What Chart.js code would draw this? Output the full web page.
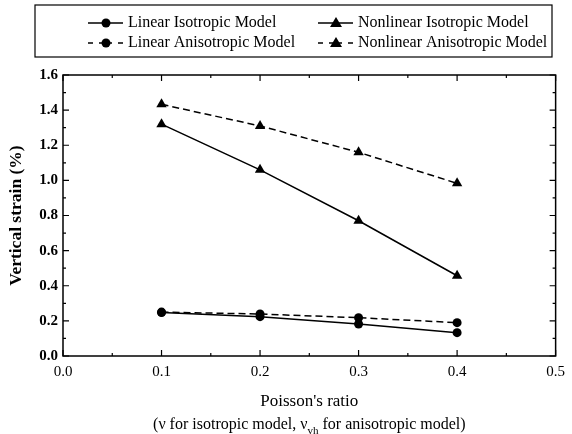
<!DOCTYPE html>
<html>
<head>
<meta charset="utf-8">
<script src="https://cdn.jsdelivr.net/npm/chart.js@4.4.1/dist/chart.umd.min.js"></script>
<style>
  html, body { margin: 0; padding: 0; background: #fff; }
  #wrap { width: 572px; height: 434px; }
</style>
</head>
<body>
<div id="wrap"><canvas id="strainChart" width="572" height="434"></canvas></div>
<script>
// --- Data --- //
const poissonRatios = [0.1, 0.2, 0.3, 0.4];
const linearIsotropic = [0.247, 0.224, 0.182, 0.133];
const nonlinearIsotropic = [1.32, 1.06, 0.77, 0.457];
const linearAnisotropic = [0.25, 0.239, 0.218, 0.19];
const nonlinearAnisotropic = [1.433, 1.31, 1.16, 0.983];
const xTicks = [0.0, 0.1, 0.2, 0.3, 0.4, 0.5];
const yTicks = [0.0, 0.2, 0.4, 0.6, 0.8, 1.0, 1.2, 1.4, 1.6];

const SERIF = '"Liberation Serif", "DejaVu Serif", serif';
const toPoints = vals => vals.map((v, i) => ({ x: poissonRatios[i], y: v }));

const series = [
    { label: 'Linear Isotropic Model', data: linearIsotropic, marker: 'circle', dash: [] },
    { label: 'Nonlinear Isotropic Model', data: nonlinearIsotropic, marker: 'triangle', dash: [] },
    { label: 'Linear Anisotropic Model', data: linearAnisotropic, marker: 'circle', dash: [7, 4] },
    { label: 'Nonlinear Anisotropic Model', data: nonlinearAnisotropic, marker: 'triangle', dash: [7, 4] }
];

// Frame, inward ticks on all four sides, legend box and x title with subscript
const decorations = {
    id: 'decorations',
    afterDraw(chart) {
        const { ctx, chartArea: a, scales: { x, y } } = chart;
        ctx.save();
        ctx.strokeStyle = '#000';
        ctx.lineWidth = 1.5;
        ctx.strokeRect(a.left, a.top, a.right - a.left, a.bottom - a.top);

        ctx.lineWidth = 1.2;
        ctx.beginPath();
        for (let v = 0; v <= 0.5001; v += 0.05) {
            const px = x.getPixelForValue(v);
            const len = Math.round(v * 100) % 10 === 0 ? 6 : 3;
            ctx.moveTo(px, a.bottom); ctx.lineTo(px, a.bottom - len);
            ctx.moveTo(px, a.top); ctx.lineTo(px, a.top + len);
        }
        for (let v = 0; v <= 1.6001; v += 0.1) {
            const py = y.getPixelForValue(v);
            const len = Math.round(v * 10) % 2 === 0 ? 6 : 3;
            ctx.moveTo(a.left, py); ctx.lineTo(a.left + len, py);
            ctx.moveTo(a.right, py); ctx.lineTo(a.right - len, py);
        }
        ctx.stroke();

        // Legend
        ctx.lineWidth = 1.2;
        ctx.strokeRect(35, 5, 517, 52);
        const cols = [88, 318];
        const rows = [23, 43];
        series.forEach((s, i) => {
            const lx = cols[i % 2];
            const ly = rows[Math.floor(i / 2)];
            ctx.lineWidth = 1.5;
            ctx.beginPath();
            if (s.dash.length) {
                [[0, 5], [11, 24], [30, 35]].forEach(([p, q]) => {
                    ctx.moveTo(lx + p, ly); ctx.lineTo(lx + q, ly);
                });
            } else {
                ctx.moveTo(lx, ly); ctx.lineTo(lx + 35, ly);
            }
            ctx.stroke();
            ctx.fillStyle = '#000';
            ctx.beginPath();
            if (s.marker === 'circle') {
                ctx.arc(lx + 18, ly, 4.5, 0, Math.PI * 2);
            } else {
                ctx.moveTo(lx + 18, ly - 6); ctx.lineTo(lx + 24, ly + 4); ctx.lineTo(lx + 12, ly + 4);
                ctx.closePath();
            }
            ctx.fill();
            ctx.font = '16px ' + SERIF;
            ctx.textBaseline = 'middle';
            ctx.textAlign = 'left';
            ctx.fillText(s.label, lx + 40, ly);
        });

        // X axis title, two lines
        const cx = (a.left + a.right) / 2;
        ctx.font = '17px ' + SERIF;
        ctx.textAlign = 'center';
        ctx.textBaseline = 'middle';
        ctx.fillText("Poisson's ratio", cx, 402);
        const pre = '(\u03bd for isotropic model, \u03bd';
        const post = ' for anisotropic model)';
        ctx.font = '11px ' + SERIF;
        const subW = ctx.measureText('vh').width;
        ctx.font = '16px ' + SERIF;
        const w1 = ctx.measureText(pre).width;
        const w2 = ctx.measureText(post).width;
        let sx = cx - (w1 + subW + w2) / 2;
        ctx.textAlign = 'left';
        ctx.fillText(pre, sx, 425);
        sx += w1;
        ctx.font = '11px ' + SERIF;
        ctx.fillText('vh', sx, 431);
        sx += subW;
        ctx.font = '16px ' + SERIF;
        ctx.fillText(post, sx, 425);
        ctx.restore();
    }
};

const chart = new Chart(document.getElementById('strainChart'), {
    type: 'line',
    data: {
        datasets: series.map(s => ({
            label: s.label,
            data: toPoints(s.data),
            borderColor: '#000',
            backgroundColor: '#000',
            borderWidth: 1.5,
            borderDash: s.dash,
            pointStyle: s.marker,
            pointRadius: s.marker === 'circle' ? 4.5 : 6,
            pointBorderWidth: 0,
            fill: false,
            tension: 0
        }))
    },
    options: {
        responsive: false,
        animation: false,
        layout: { padding: { top: 75, right: 11, left: 0, bottom: 0 } },
        plugins: { legend: { display: false }, tooltip: { enabled: false } },
        scales: {
            x: {
                type: 'linear',
                min: 0, max: 0.5,
                afterFit: s => { s.height = 78; },
                afterBuildTicks: s => { s.ticks = xTicks.map(v => ({ value: v })); },
                grid: { display: false, drawTicks: false },
                border: { display: false },
                ticks: {
                    padding: 7,
                    color: '#000',
                    font: { family: SERIF, size: 15 },
                    callback: v => v.toFixed(1)
                }
            },
            y: {
                min: 0, max: 1.6,
                afterFit: s => { s.width = 63; },
                afterBuildTicks: s => { s.ticks = yTicks.map(v => ({ value: v })); },
                grid: { display: false, drawTicks: false },
                border: { display: false },
                title: {
                    display: true,
                    text: 'Vertical strain (%)',
                    color: '#000',
                    font: { family: SERIF, size: 17.5, weight: 'bold' },
                    padding: { top: 6, bottom: 0 }
                },
                ticks: {
                    padding: 5,
                    color: '#000',
                    font: { family: SERIF, size: 15, weight: 'bold' },
                    callback: v => v.toFixed(1)
                }
            }
        }
    },
    plugins: [decorations]
});
</script>
</body>
</html>
